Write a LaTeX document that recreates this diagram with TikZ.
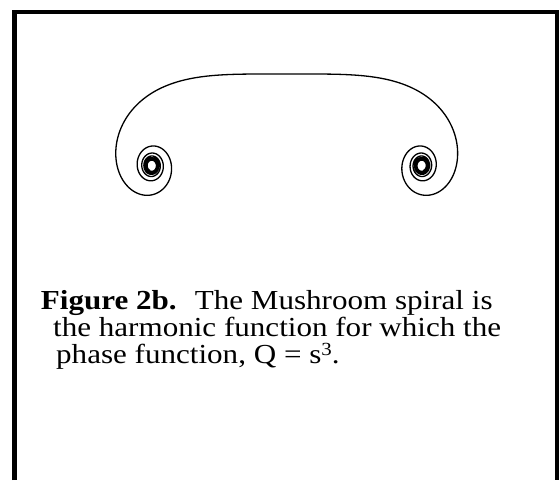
\documentclass[tikz,border=0pt]{standalone}
\usepackage{fontspec}
\setmainfont[FakeStretch=1.13]{Liberation Serif}
\begin{document}
\begin{tikzpicture}[x=1pt,y=1pt,
    frame/.style={line width=4.8pt},
    spiral/.style={line width=1.3pt,line join=round},
    caption/.style={anchor=base west,inner sep=0pt,font=\fontsize{27.5}{27}\selectfont}]
  \useasboundingbox (0,0) rectangle (559,480);
  \draw[frame] (14.4,0) -- (14.4,468) -- (557.5,468) -- (557.5,0);
  % mushroom spiral: tangent angle = s^3, summed in small steps
  \def\ds{0.005}
  \gdef\px{0}\gdef\py{0}
  \begin{scope}[shift={(286.7,406)},xscale=175,yscale=-206]
    \coordinate (r0) at (0,0);
    \coordinate (l0) at (0,0);
    \foreach \i in {1,...,720}{
      \pgfmathsetmacro\a{deg(((\i-0.5)*\ds)^3)}
      \pgfmathsetmacro\nx{\px+\ds*cos(\a)}
      \pgfmathsetmacro\ny{\py+\ds*sin(\a)}
      \xdef\px{\nx}\xdef\py{\ny}
      \coordinate (r\i) at (\px,\py);
      \coordinate (l\i) at (-\px,\py);
    }
  \end{scope}
  \draw[spiral] (l720) \foreach \i in {719,...,0}{ -- (l\i)}
    \foreach \i in {1,...,720}{ -- (r\i)};
  % caption
  \node[caption] (line1) at (40.7,170.7) {\textbf{Figure 2b.}~ The Mushroom spiral is};
  \node[caption] (line2) at (53,143.3) {the harmonic function for which the};
  \node[caption] (line3) at (56,117) {phase function, Q = s\raisebox{0.27em}{\fontsize{18.5}{18.5}\selectfont 3}.};
\end{tikzpicture}
\end{document}
